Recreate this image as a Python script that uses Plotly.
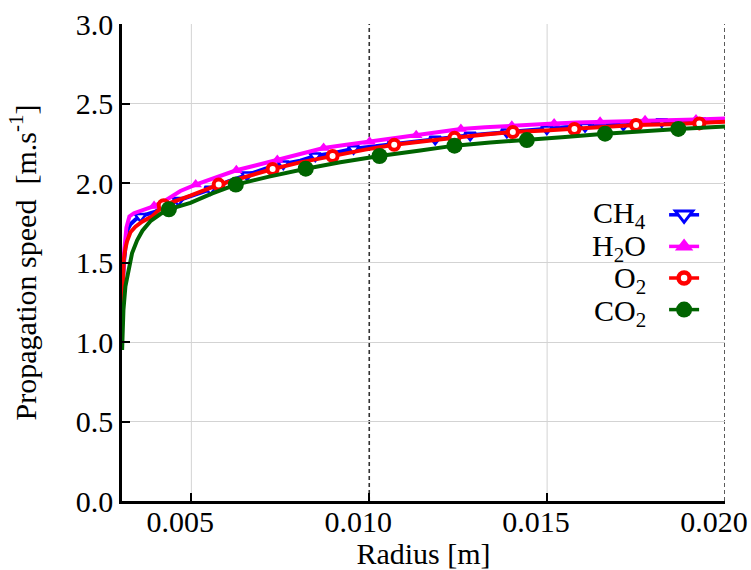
import plotly.graph_objects as go

# ---------------- data (radius in m, speed in m/s) ----------------
ch4_x = [0.003053, 0.003104, 0.003194, 0.003287, 0.003427, 0.003567, 0.003989, 0.004270,
         0.004635, 0.005112, 0.005534, 0.006039, 0.006565, 0.007079, 0.007584, 0.008062,
         0.008483, 0.009045, 0.009559, 0.010112, 0.010683, 0.011292, 0.011854, 0.012331,
         0.012837, 0.013343, 0.013868, 0.014410, 0.014992, 0.015506, 0.016067, 0.016601,
         0.017143, 0.017668, 0.018222, 0.018736, 0.019298, 0.020000]
ch4_y = [1.30, 1.50, 1.70, 1.74, 1.77, 1.79, 1.82, 1.86,
         1.89, 1.93, 1.96, 2.01, 2.05, 2.09, 2.12, 2.14,
         2.17, 2.19, 2.215, 2.23, 2.245, 2.26, 2.275, 2.29,
         2.30, 2.31, 2.32, 2.33, 2.34, 2.35, 2.355, 2.36,
         2.365, 2.375, 2.385, 2.385, 2.39, 2.395]
ch4_marks = [5, 8, 10, 12, 14, 16, 18, 20, 22, 24, 26, 28, 30, 32, 34, 36]

h2o_x = [0.003053, 0.003104, 0.003174, 0.003258, 0.003385, 0.003624, 0.003952, 0.004270,
         0.004691, 0.005121, 0.005674, 0.006264, 0.006798, 0.007416, 0.008062, 0.008716,
         0.009354, 0.010008, 0.010646, 0.011320, 0.011938, 0.012576, 0.013258, 0.014008,
         0.014579, 0.015197, 0.015843, 0.016489, 0.017106, 0.017753, 0.018455, 0.019185,
         0.020000]
h2o_y = [1.27, 1.55, 1.72, 1.79, 1.81, 1.83, 1.855, 1.89,
         1.95, 1.99, 2.035, 2.08, 2.11, 2.145, 2.18, 2.22,
         2.24, 2.26, 2.28, 2.30, 2.32, 2.34, 2.35, 2.36,
         2.37, 2.375, 2.38, 2.385, 2.39, 2.395, 2.40, 2.40,
         2.405]
h2o_marks = [6, 9, 11, 13, 15, 17, 19, 21, 23, 25, 27, 29, 31]

o2_x = [0.003053, 0.003076, 0.003098, 0.003146, 0.003194, 0.003287, 0.003427, 0.003615,
        0.003896, 0.004222, 0.004551, 0.004972, 0.005767, 0.006517, 0.007284, 0.008062,
        0.008969, 0.009888, 0.010702, 0.011573, 0.012396, 0.013258, 0.014036, 0.014944,
        0.015767, 0.016629, 0.017500, 0.018455, 0.019278, 0.020000]
o2_y = [1.245, 1.40, 1.515, 1.59, 1.635, 1.69, 1.725, 1.757,
        1.79, 1.86, 1.885, 1.92, 1.99, 2.04, 2.088, 2.13,
        2.17, 2.21, 2.24, 2.265, 2.285, 2.305, 2.32, 2.33,
        2.34, 2.355, 2.365, 2.37, 2.375, 2.385]
o2_marks = [9, 12, 14, 16, 18, 20, 22, 24, 26, 28]

co2_x = [0.003053, 0.003090, 0.003146, 0.003239, 0.003334, 0.003475, 0.003624, 0.003848,
         0.004129, 0.004368, 0.004691, 0.004972, 0.005590, 0.006250, 0.007183, 0.008216,
         0.009185, 0.010289, 0.011433, 0.012396, 0.013399, 0.014430, 0.015506, 0.016629,
         0.017612, 0.018688, 0.020000]
co2_y = [0.95, 1.20, 1.35, 1.46, 1.56, 1.64, 1.70, 1.76,
         1.805, 1.835, 1.855, 1.875, 1.935, 1.99, 2.04, 2.09,
         2.13, 2.17, 2.205, 2.235, 2.255, 2.27, 2.29, 2.31,
         2.325, 2.34, 2.355]
co2_marks = [9, 13, 15, 17, 19, 21, 23, 25]

series_names = ["CH<sub>4</sub>", "H<sub>2</sub>O", "O<sub>2</sub>", "CO<sub>2</sub>"]

x_tickvals = [0.005, 0.010, 0.015, 0.020]
x_ticktext = ["0.005", "0.010", "0.015", "0.020"]
y_tickvals = [0.0, 0.5, 1.0, 1.5, 2.0, 2.5, 3.0]
y_ticktext = ["0.0", "0.5", "1.0", "1.5", "2.0", "2.5", "3.0"]

x_title = "Radius [m]"
y_title = "Propagation speed\u00a0 [m.s<sup>-1</sup>]"

# ---------------- styles ----------------
FONT = "Liberation Serif, serif"


def serif(t):
    return "<span style='font-family:Liberation Serif, serif'>" + t + "</span>"


def sfont(size):
    return dict(family=FONT, size=size, color="black")


styles = [
    dict(color="#0000ff", symbol="triangle-down", fill="white", size=10, lw=2.5, lsize=15, llw=3),
    dict(color="#ff00ff", symbol="triangle-up", fill="#ff00ff", size=11, lw=0, lsize=16, llw=0),
    dict(color="#ff0000", symbol="circle", fill="white", size=10, lw=4, lsize=11, llw=4.5),
    dict(color="#006400", symbol="circle", fill="#006400", size=16, lw=0, lsize=16, llw=0),
]
data = [(ch4_x, ch4_y, ch4_marks), (h2o_x, h2o_y, h2o_marks),
        (o2_x, o2_y, o2_marks), (co2_x, co2_y, co2_marks)]

fig = go.Figure()
for (xs, ys, marks), st, name in zip(data, styles, series_names):
    fig.add_trace(go.Scatter(
        x=xs, y=ys, mode="lines", showlegend=False,
        line=dict(color=st["color"], width=4), hoverinfo="skip"))
    fig.add_trace(go.Scatter(
        x=[xs[i] for i in marks], y=[ys[i] for i in marks], mode="markers",
        showlegend=False,
        marker=dict(symbol=st["symbol"], size=st["size"], color=st["fill"],
                    line=dict(color=st["color"], width=st["lw"]))))

# legend entries (symbols only; labels as right-aligned annotations)
for st in styles:
    fig.add_trace(go.Scatter(
        x=[None], y=[None], mode="lines+markers", name=" ",
        line=dict(color=st["color"], width=3.5),
        marker=dict(symbol=st["symbol"], size=st["lsize"], color=st["fill"],
                    line=dict(color=st["color"], width=st["llw"]))))

# vertical grid: solid light lines on odd ticks, dark dashed lines on even ticks
for i, v in enumerate(x_tickvals):
    dashed = (i % 2 == 1)
    fig.add_shape(type="line", xref="x", yref="paper", x0=v, x1=v, y0=0, y1=1,
                  line=dict(color="#333333" if dashed else "#d3d3d3",
                            width=1.6 if dashed else 1,
                            dash="4px,3px" if dashed else "solid"),
                  layer="below")

label_y = [0.5996, 0.5304, 0.4633, 0.3941]
for name, yy in zip(series_names, label_y):
    fig.add_annotation(text=serif(name), xref="paper", yref="paper", x=0.8723, y=yy,
                       xanchor="right", yanchor="middle", showarrow=False,
                       font=sfont(30))

fig.update_layout(
    width=751, height=570,
    margin=dict(l=122, r=26, t=24, b=69, autoexpand=False),
    paper_bgcolor="white", plot_bgcolor="white",
    font=sfont(30),
    showlegend=True,
    legend=dict(x=0.899, y=0.6436, xanchor="left", yanchor="top",
                bgcolor="rgba(0,0,0,0)", font=dict(family=FONT, size=22), traceorder="normal"),
)
fig.update_xaxes(
    range=[0.00305, 0.0200], tickvals=x_tickvals, ticktext=[serif(t) for t in x_ticktext],
    tickfont=sfont(30),
    showline=True, linecolor="black", linewidth=2.5,
    ticks="inside", ticklen=8, tickwidth=1.5, tickcolor="black",
    showgrid=False, zeroline=False,
    automargin=False, ticklabelshift=-11, ticklabelstandoff=-8,
    title=dict(text=serif(x_title), standoff=4, font=sfont(30)),
)
fig.update_yaxes(
    range=[0, 3], tickvals=y_tickvals, ticktext=[serif(t) for t in y_ticktext],
    tickfont=sfont(30),
    showline=True, linecolor="black", linewidth=2.5,
    ticks="inside", ticklen=8, tickwidth=1.5, tickcolor="black",
    showgrid=True, gridcolor="#d3d3d3", gridwidth=1, zeroline=False,
    automargin=False,
    title=dict(text=serif(y_title), standoff=31, font=sfont(30)),
)

fig.write_html("out.html", post_script="document.body.style.margin='0px';",
               config={"displayModeBar": False})
